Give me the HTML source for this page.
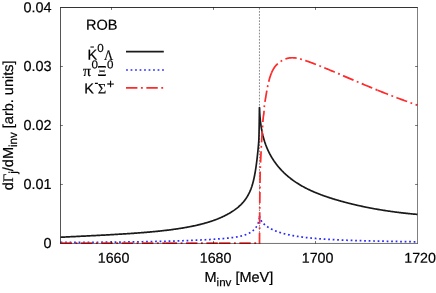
<!DOCTYPE html>
<html><head><meta charset="utf-8"><title>plot</title>
<style>
html,body{margin:0;padding:0;background:#fff;}
svg{display:block;will-change:transform}
text{font-family:"Liberation Sans",sans-serif;font-size:14.5px;fill:#000;stroke:#000;stroke-width:0.2px}
.sy{font-family:"Liberation Serif",serif}
.sub{font-size:11.6px}
.tk{font-size:14.25px}
</style></head><body>
<svg width="436" height="293" viewBox="0 0 436 293">
<rect width="436" height="293" fill="#fff"/>
<!-- threshold line -->
<path d="M259.45,7.9 V243.45" stroke="#000" stroke-width="0.48" stroke-dasharray="1.7 1.4" fill="none"/>
<!-- curves -->
<path d="M60.60,237.26 L61.58,237.21 L62.56,237.16 L63.53,237.11 L64.51,237.06 L65.48,237.01 L66.44,236.96 L67.41,236.91 L68.37,236.87 L69.33,236.82 L70.29,236.77 L71.25,236.72 L72.20,236.68 L73.15,236.63 L74.10,236.58 L75.05,236.54 L75.99,236.49 L76.93,236.44 L77.87,236.40 L78.81,236.35 L79.74,236.30 L80.67,236.26 L81.60,236.21 L82.53,236.17 L83.45,236.12 L84.37,236.08 L85.29,236.03 L86.21,235.98 L87.12,235.94 L88.04,235.89 L88.95,235.85 L89.85,235.80 L90.76,235.76 L91.66,235.71 L92.56,235.67 L93.46,235.62 L94.35,235.58 L95.25,235.53 L96.14,235.48 L97.03,235.44 L97.91,235.39 L98.79,235.35 L99.68,235.30 L100.55,235.26 L101.43,235.21 L102.30,235.16 L103.17,235.12 L104.04,235.07 L104.91,235.03 L105.77,234.98 L106.63,234.93 L107.49,234.89 L108.35,234.84 L109.20,234.79 L110.06,234.75 L110.90,234.70 L111.75,234.65 L112.60,234.60 L113.44,234.56 L114.28,234.51 L115.11,234.46 L115.95,234.41 L116.78,234.36 L117.61,234.31 L118.44,234.27 L119.26,234.22 L120.09,234.17 L120.91,234.12 L121.73,234.07 L122.54,234.02 L123.35,233.97 L124.16,233.91 L124.97,233.86 L125.78,233.81 L126.58,233.76 L127.38,233.71 L128.18,233.66 L128.98,233.60 L129.77,233.55 L130.56,233.50 L131.35,233.44 L132.14,233.39 L132.92,233.33 L133.70,233.28 L134.48,233.22 L135.26,233.17 L136.03,233.11 L136.80,233.06 L137.57,233.00 L138.34,232.94 L139.11,232.88 L139.87,232.83 L140.63,232.77 L141.38,232.71 L142.14,232.65 L142.89,232.59 L143.64,232.53 L144.39,232.47 L145.13,232.41 L145.88,232.34 L146.62,232.28 L147.36,232.22 L148.09,232.16 L148.82,232.09 L149.56,232.03 L150.28,231.96 L151.01,231.90 L151.73,231.83 L152.45,231.76 L153.17,231.70 L153.89,231.63 L154.60,231.56 L155.31,231.49 L156.02,231.42 L156.73,231.35 L157.43,231.28 L158.13,231.21 L158.83,231.13 L159.53,231.06 L160.23,230.99 L160.92,230.91 L161.61,230.84 L162.29,230.76 L162.98,230.69 L163.66,230.61 L164.34,230.53 L165.02,230.45 L165.69,230.37 L166.37,230.30 L167.04,230.21 L167.70,230.13 L168.37,230.05 L169.03,229.97 L169.69,229.88 L170.35,229.80 L171.01,229.72 L171.66,229.63 L172.31,229.54 L172.96,229.46 L173.61,229.37 L174.25,229.28 L174.89,229.19 L175.53,229.10 L176.16,229.01 L176.80,228.91 L177.43,228.82 L178.06,228.73 L178.69,228.63 L179.31,228.53 L179.93,228.44 L180.55,228.34 L181.17,228.24 L181.78,228.14 L182.40,228.04 L183.00,227.94 L183.61,227.84 L184.22,227.73 L184.82,227.63 L185.42,227.52 L186.02,227.42 L186.61,227.31 L187.20,227.20 L187.80,227.09 L188.38,226.98 L188.97,226.87 L189.55,226.76 L190.13,226.65 L190.71,226.53 L191.29,226.42 L191.86,226.30 L192.43,226.19 L193.00,226.07 L193.57,225.95 L194.13,225.83 L194.69,225.71 L195.25,225.58 L195.81,225.46 L196.36,225.33 L196.91,225.21 L197.46,225.08 L198.01,224.95 L198.55,224.82 L199.09,224.69 L199.63,224.56 L200.17,224.43 L200.70,224.30 L201.24,224.16 L201.77,224.02 L202.29,223.89 L202.82,223.75 L203.34,223.61 L203.86,223.47 L204.38,223.32 L204.90,223.18 L205.41,223.04 L205.92,222.89 L206.43,222.74 L206.93,222.59 L207.44,222.45 L207.94,222.29 L208.43,222.14 L208.93,221.99 L209.42,221.83 L209.92,221.68 L210.40,221.52 L210.89,221.36 L211.37,221.20 L211.86,221.04 L212.33,220.88 L212.81,220.71 L213.29,220.55 L213.76,220.38 L214.23,220.21 L214.69,220.04 L215.16,219.87 L215.62,219.70 L216.08,219.52 L216.54,219.35 L216.99,219.17 L217.44,218.99 L217.89,218.82 L218.34,218.63 L218.79,218.45 L219.23,218.27 L219.67,218.08 L220.11,217.90 L220.54,217.71 L220.98,217.52 L221.41,217.33 L221.83,217.13 L222.26,216.94 L222.68,216.74 L223.10,216.55 L223.52,216.35 L223.94,216.15 L224.35,215.95 L224.76,215.74 L225.17,215.54 L225.58,215.33 L225.98,215.12 L226.38,214.91 L226.78,214.70 L227.18,214.49 L227.58,214.27 L227.97,214.06 L228.36,213.84 L228.74,213.62 L229.13,213.40 L229.51,213.18 L229.89,212.95 L230.27,212.72 L230.64,212.50 L231.01,212.27 L231.39,212.04 L231.75,211.80 L232.12,211.57 L232.48,211.33 L232.84,211.09 L233.20,210.85 L233.55,210.61 L233.91,210.37 L234.26,210.12 L234.61,209.88 L234.95,209.63 L235.30,209.38 L235.64,209.13 L235.98,208.87 L236.31,208.62 L236.65,208.36 L236.98,208.10 L237.31,207.84 L237.63,207.57 L237.96,207.31 L238.28,207.04 L238.60,206.77 L238.92,206.49 L239.23,206.21 L239.54,205.93 L239.85,205.65 L240.16,205.36 L240.46,205.07 L240.77,204.78 L241.07,204.48 L241.36,204.18 L241.66,203.88 L241.95,203.57 L242.24,203.26 L242.53,202.94 L242.81,202.62 L243.10,202.30 L243.38,201.97 L243.66,201.64 L243.93,201.30 L244.20,200.96 L244.48,200.62 L244.74,200.27 L245.01,199.91 L245.27,199.55 L245.53,199.18 L245.79,198.81 L246.05,198.44 L246.30,198.05 L246.56,197.67 L246.80,197.27 L247.05,196.88 L247.30,196.47 L247.54,196.06 L247.78,195.64 L248.01,195.22 L248.25,194.79 L248.48,194.36 L248.71,193.92 L248.94,193.47 L249.16,193.01 L249.38,192.55 L249.61,192.08 L249.82,191.61 L250.04,191.12 L250.25,190.63 L250.46,190.13 L250.67,189.62 L250.87,189.10 L251.08,188.57 L251.28,188.03 L251.48,187.47 L251.67,186.91 L251.87,186.33 L252.06,185.73 L252.25,185.13 L252.43,184.51 L252.62,183.87 L252.80,183.23 L252.98,182.56 L253.15,181.89 L253.33,181.20 L253.50,180.50 L253.67,179.78 L253.83,179.06 L254.00,178.31 L254.16,177.56 L254.32,176.79 L254.48,176.01 L254.63,175.22 L254.78,174.41 L254.93,173.60 L255.08,172.77 L255.23,171.92 L255.37,171.07 L255.51,170.20 L255.65,169.33 L255.78,168.44 L255.92,167.55 L256.05,166.65 L256.17,165.75 L256.30,164.83 L256.42,163.92 L256.54,163.00 L256.66,162.08 L256.78,161.15 L256.89,160.23 L257.00,159.30 L257.11,158.38 L257.22,157.45 L257.32,156.53 L257.42,155.62 L257.52,154.70 L257.62,153.80 L257.71,152.90 L257.80,152.00 L257.89,151.12 L257.98,150.24 L258.07,149.38 L258.15,148.52 L258.23,147.68 L258.30,146.84 L258.38,146.03 L258.45,145.22 L258.52,144.44 L258.59,143.65 L258.65,142.83 L258.72,141.93 L258.78,140.92 L258.84,139.76 L258.89,138.42 L258.94,136.84 L259.00,135.07 L259.04,133.12 L259.09,131.03 L259.13,128.84 L259.17,126.58 L259.21,124.28 L259.25,121.97 L259.28,119.70 L259.31,117.49 L259.34,115.38 L259.37,113.40 L259.39,111.59 L259.41,109.98 L259.43,108.60 L259.45,107.49 L259.56,108.09 L259.58,108.70 L259.60,109.30 L259.62,109.90 L259.64,110.49 L259.67,111.09 L259.69,111.68 L259.72,112.26 L259.75,112.85 L259.78,113.43 L259.82,114.00 L259.85,114.58 L259.89,115.15 L259.93,115.72 L259.97,116.29 L260.02,116.85 L260.06,117.41 L260.11,117.97 L260.16,118.52 L260.21,119.07 L260.26,119.62 L260.32,120.17 L260.37,120.71 L260.43,121.25 L260.49,121.79 L260.56,122.33 L260.62,122.86 L260.69,123.39 L260.76,123.92 L260.83,124.44 L260.90,124.96 L260.97,125.48 L261.05,126.00 L261.13,126.51 L261.21,127.02 L261.29,127.53 L261.37,128.04 L261.46,128.54 L261.54,129.04 L261.63,129.54 L261.73,130.03 L261.82,130.53 L261.91,131.02 L262.01,131.51 L262.11,131.99 L262.21,132.47 L262.31,132.96 L262.42,133.43 L262.53,133.91 L262.63,134.38 L262.74,134.85 L262.86,135.32 L262.97,135.79 L263.09,136.25 L263.21,136.71 L263.33,137.17 L263.45,137.63 L263.57,138.08 L263.70,138.53 L263.82,138.98 L263.95,139.43 L264.09,139.88 L264.22,140.32 L264.35,140.76 L264.49,141.20 L264.63,141.63 L264.77,142.07 L264.92,142.50 L265.06,142.93 L265.21,143.36 L265.36,143.78 L265.51,144.21 L265.66,144.63 L265.81,145.05 L265.97,145.46 L266.13,145.88 L266.29,146.29 L266.45,146.70 L266.61,147.11 L266.78,147.52 L266.95,147.92 L267.12,148.32 L267.29,148.72 L267.46,149.12 L267.64,149.52 L267.82,149.92 L268.00,150.31 L268.18,150.70 L268.36,151.09 L268.55,151.48 L268.73,151.86 L268.92,152.25 L269.11,152.63 L269.31,153.01 L269.50,153.39 L269.70,153.77 L269.89,154.14 L270.10,154.52 L270.30,154.89 L270.50,155.26 L270.71,155.63 L270.92,156.00 L271.13,156.36 L271.34,156.73 L271.55,157.09 L271.77,157.45 L271.99,157.81 L272.20,158.17 L272.43,158.52 L272.65,158.88 L272.87,159.23 L273.10,159.58 L273.33,159.93 L273.56,160.28 L273.80,160.63 L274.03,160.98 L274.27,161.32 L274.51,161.67 L274.75,162.01 L274.99,162.35 L275.23,162.69 L275.48,163.03 L275.73,163.36 L275.98,163.70 L276.23,164.03 L276.48,164.37 L276.74,164.70 L277.00,165.03 L277.26,165.36 L277.52,165.68 L277.78,166.01 L278.05,166.33 L278.32,166.66 L278.58,166.98 L278.86,167.30 L279.13,167.62 L279.40,167.94 L279.68,168.25 L279.96,168.57 L280.24,168.88 L280.52,169.19 L280.81,169.50 L281.09,169.81 L281.38,170.12 L281.67,170.43 L281.97,170.73 L282.26,171.04 L282.56,171.34 L282.85,171.64 L283.15,171.94 L283.46,172.24 L283.76,172.54 L284.07,172.83 L284.37,173.13 L284.68,173.42 L284.99,173.71 L285.31,174.01 L285.62,174.29 L285.94,174.58 L286.26,174.87 L286.58,175.15 L286.90,175.44 L287.23,175.72 L287.55,176.00 L287.88,176.28 L288.21,176.56 L288.55,176.84 L288.88,177.11 L289.22,177.39 L289.55,177.66 L289.89,177.93 L290.24,178.20 L290.58,178.47 L290.93,178.74 L291.27,179.01 L291.62,179.27 L291.98,179.53 L292.33,179.80 L292.68,180.06 L293.04,180.32 L293.40,180.57 L293.76,180.83 L294.13,181.09 L294.49,181.34 L294.86,181.59 L295.23,181.85 L295.60,182.10 L295.97,182.34 L296.34,182.59 L296.72,182.84 L297.10,183.08 L297.48,183.33 L297.86,183.57 L298.25,183.81 L298.63,184.05 L299.02,184.29 L299.41,184.52 L299.80,184.76 L300.19,184.99 L300.59,185.23 L300.99,185.46 L301.39,185.69 L301.79,185.92 L302.19,186.14 L302.60,186.37 L303.00,186.60 L303.41,186.82 L303.82,187.04 L304.24,187.26 L304.65,187.48 L305.07,187.70 L305.49,187.92 L305.91,188.14 L306.33,188.35 L306.75,188.57 L307.18,188.78 L307.61,188.99 L308.04,189.20 L308.47,189.41 L308.90,189.62 L309.34,189.83 L309.78,190.04 L310.22,190.24 L310.66,190.45 L311.10,190.65 L311.55,190.85 L312.00,191.05 L312.44,191.25 L312.90,191.45 L313.35,191.65 L313.80,191.85 L314.26,192.04 L314.72,192.24 L315.18,192.43 L315.64,192.62 L316.11,192.82 L316.57,193.01 L317.04,193.20 L317.51,193.39 L317.98,193.57 L318.46,193.76 L318.93,193.95 L319.41,194.13 L319.89,194.32 L320.37,194.50 L320.86,194.68 L321.34,194.87 L321.83,195.05 L322.32,195.23 L322.81,195.41 L323.30,195.59 L323.80,195.76 L324.30,195.94 L324.80,196.12 L325.30,196.29 L325.80,196.47 L326.30,196.64 L326.81,196.81 L327.32,196.99 L327.83,197.16 L328.34,197.33 L328.86,197.50 L329.37,197.67 L329.89,197.84 L330.41,198.00 L330.93,198.17 L331.46,198.34 L331.98,198.50 L332.51,198.67 L333.04,198.83 L333.57,199.00 L334.10,199.16 L334.64,199.32 L335.18,199.48 L335.72,199.65 L336.26,199.81 L336.80,199.97 L337.34,200.13 L337.89,200.28 L338.44,200.44 L338.99,200.60 L339.54,200.76 L340.10,200.92 L340.65,201.07 L341.21,201.23 L341.77,201.38 L342.33,201.54 L342.90,201.69 L343.46,201.84 L344.03,202.00 L344.60,202.15 L345.17,202.30 L345.75,202.45 L346.32,202.60 L346.90,202.75 L347.48,202.90 L348.06,203.05 L348.64,203.20 L349.23,203.35 L349.82,203.50 L350.40,203.64 L351.00,203.79 L351.59,203.93 L352.18,204.08 L352.78,204.22 L353.38,204.37 L353.98,204.51 L354.58,204.65 L355.18,204.79 L355.79,204.94 L356.40,205.08 L357.01,205.22 L357.62,205.35 L358.23,205.49 L358.85,205.63 L359.47,205.77 L360.09,205.90 L360.71,206.04 L361.33,206.18 L361.96,206.31 L362.58,206.44 L363.21,206.58 L363.84,206.71 L364.48,206.84 L365.11,206.97 L365.75,207.10 L366.39,207.23 L367.03,207.36 L367.67,207.49 L368.32,207.62 L368.96,207.74 L369.61,207.87 L370.26,207.99 L370.91,208.12 L371.57,208.24 L372.22,208.36 L372.88,208.49 L373.54,208.61 L374.20,208.73 L374.86,208.85 L375.53,208.97 L376.20,209.09 L376.87,209.20 L377.54,209.32 L378.21,209.44 L378.89,209.55 L379.56,209.67 L380.24,209.78 L380.92,209.89 L381.61,210.00 L382.29,210.11 L382.98,210.22 L383.66,210.33 L384.35,210.44 L385.05,210.55 L385.74,210.66 L386.44,210.76 L387.14,210.87 L387.84,210.97 L388.54,211.08 L389.24,211.18 L389.95,211.28 L390.65,211.38 L391.36,211.48 L392.07,211.58 L392.79,211.68 L393.50,211.78 L394.22,211.87 L394.94,211.97 L395.66,212.06 L396.38,212.16 L397.11,212.25 L397.83,212.34 L398.56,212.43 L399.29,212.53 L400.03,212.61 L400.76,212.70 L401.50,212.79 L402.23,212.88 L402.97,212.96 L403.72,213.05 L404.46,213.13 L405.21,213.21 L405.95,213.30 L406.70,213.38 L407.46,213.46 L408.21,213.53 L408.96,213.61 L409.72,213.69 L410.48,213.77 L411.24,213.84 L412.01,213.91 L412.77,213.99 L413.54,214.06 L414.31,214.13 L415.08,214.20 L415.85,214.27 L416.62,214.34 L417.40,214.40" stroke="#1a1a1a" stroke-width="1.7" fill="none" stroke-linejoin="round"/>
<path d="M60.60,242.47 L61.60,242.46 L62.59,242.46 L63.58,242.46 L64.57,242.45 L65.55,242.45 L66.54,242.44 L67.52,242.44 L68.50,242.44 L69.47,242.43 L70.44,242.43 L71.42,242.42 L72.38,242.42 L73.35,242.41 L74.31,242.41 L75.27,242.40 L76.23,242.40 L77.19,242.39 L78.14,242.39 L79.09,242.38 L80.04,242.38 L80.99,242.37 L81.93,242.37 L82.87,242.36 L83.81,242.36 L84.74,242.35 L85.68,242.35 L86.61,242.34 L87.54,242.34 L88.46,242.33 L89.39,242.32 L90.31,242.32 L91.22,242.31 L92.14,242.30 L93.05,242.30 L93.96,242.29 L94.87,242.29 L95.78,242.28 L96.68,242.27 L97.58,242.27 L98.48,242.26 L99.38,242.25 L100.27,242.24 L101.16,242.24 L102.05,242.23 L102.93,242.22 L103.82,242.21 L104.70,242.21 L105.58,242.20 L106.45,242.19 L107.33,242.18 L108.20,242.18 L109.07,242.17 L109.93,242.16 L110.79,242.15 L111.66,242.14 L112.51,242.13 L113.37,242.13 L114.22,242.12 L115.07,242.11 L115.92,242.10 L116.77,242.09 L117.61,242.08 L118.45,242.07 L119.29,242.06 L120.13,242.05 L120.96,242.04 L121.79,242.03 L122.62,242.02 L123.44,242.01 L124.27,242.00 L125.09,241.99 L125.91,241.98 L126.72,241.97 L127.54,241.96 L128.35,241.95 L129.16,241.94 L129.96,241.93 L130.76,241.92 L131.57,241.91 L132.36,241.90 L133.16,241.88 L133.95,241.87 L134.74,241.86 L135.53,241.85 L136.32,241.84 L137.10,241.83 L137.88,241.81 L138.66,241.80 L139.44,241.79 L140.21,241.78 L140.98,241.76 L141.75,241.75 L142.51,241.74 L143.28,241.73 L144.04,241.71 L144.80,241.70 L145.55,241.69 L146.31,241.67 L147.06,241.66 L147.81,241.64 L148.55,241.63 L149.29,241.62 L150.04,241.60 L150.77,241.59 L151.51,241.57 L152.24,241.56 L152.97,241.54 L153.70,241.53 L154.43,241.52 L155.15,241.50 L155.87,241.48 L156.59,241.47 L157.31,241.45 L158.02,241.44 L158.73,241.42 L159.44,241.41 L160.15,241.39 L160.85,241.37 L161.55,241.36 L162.25,241.34 L162.94,241.32 L163.64,241.31 L164.33,241.29 L165.02,241.27 L165.70,241.26 L166.39,241.24 L167.07,241.22 L167.75,241.20 L168.42,241.19 L169.09,241.17 L169.77,241.15 L170.43,241.13 L171.10,241.11 L171.76,241.09 L172.42,241.08 L173.08,241.06 L173.74,241.04 L174.39,241.02 L175.04,241.00 L175.69,240.98 L176.34,240.96 L176.98,240.94 L177.62,240.92 L178.26,240.90 L178.90,240.88 L179.53,240.86 L180.16,240.84 L180.79,240.82 L181.41,240.80 L182.04,240.77 L182.66,240.75 L183.28,240.73 L183.89,240.71 L184.51,240.69 L185.12,240.67 L185.73,240.64 L186.33,240.62 L186.94,240.60 L187.54,240.58 L188.14,240.55 L188.73,240.53 L189.32,240.51 L189.92,240.48 L190.50,240.46 L191.09,240.44 L191.67,240.41 L192.25,240.39 L192.83,240.37 L193.41,240.34 L193.98,240.32 L194.55,240.29 L195.12,240.27 L195.69,240.24 L196.25,240.22 L196.81,240.19 L197.37,240.17 L197.93,240.14 L198.48,240.11 L199.03,240.09 L199.58,240.06 L200.13,240.03 L200.67,240.01 L201.21,239.98 L201.75,239.95 L202.28,239.93 L202.82,239.90 L203.35,239.87 L203.88,239.84 L204.40,239.82 L204.93,239.79 L205.45,239.76 L205.97,239.73 L206.48,239.70 L207.00,239.67 L207.51,239.64 L208.01,239.61 L208.52,239.58 L209.02,239.56 L209.53,239.53 L210.02,239.50 L210.52,239.46 L211.01,239.43 L211.50,239.40 L211.99,239.37 L212.48,239.34 L212.96,239.31 L213.44,239.28 L213.92,239.25 L214.40,239.22 L214.87,239.18 L215.34,239.15 L215.81,239.12 L216.28,239.09 L216.74,239.05 L217.20,239.02 L217.66,238.99 L218.12,238.95 L218.57,238.92 L219.02,238.89 L219.47,238.85 L219.92,238.82 L220.36,238.78 L220.80,238.75 L221.24,238.71 L221.67,238.68 L222.11,238.64 L222.54,238.61 L222.97,238.57 L223.39,238.53 L223.82,238.50 L224.24,238.46 L224.66,238.42 L225.07,238.38 L225.49,238.35 L225.90,238.31 L226.31,238.27 L226.71,238.23 L227.12,238.19 L227.52,238.15 L227.91,238.11 L228.31,238.06 L228.70,238.02 L229.10,237.98 L229.48,237.94 L229.87,237.89 L230.25,237.85 L230.63,237.80 L231.01,237.76 L231.39,237.71 L231.76,237.66 L232.13,237.62 L232.50,237.57 L232.87,237.52 L233.23,237.47 L233.59,237.42 L233.95,237.36 L234.31,237.31 L234.66,237.26 L235.01,237.20 L235.36,237.15 L235.71,237.09 L236.05,237.04 L236.39,236.98 L236.73,236.92 L237.07,236.86 L237.40,236.80 L237.73,236.74 L238.06,236.68 L238.39,236.61 L238.71,236.55 L239.03,236.48 L239.35,236.42 L239.67,236.35 L239.98,236.28 L240.29,236.21 L240.60,236.14 L240.90,236.07 L241.21,235.99 L241.51,235.92 L241.81,235.84 L242.10,235.77 L242.40,235.69 L242.69,235.61 L242.98,235.53 L243.26,235.45 L243.55,235.36 L243.83,235.28 L244.11,235.19 L244.38,235.11 L244.66,235.02 L244.93,234.93 L245.20,234.84 L245.46,234.74 L245.73,234.65 L245.99,234.55 L246.25,234.46 L246.50,234.36 L246.76,234.26 L247.01,234.16 L247.25,234.05 L247.50,233.95 L247.74,233.84 L247.99,233.73 L248.22,233.62 L248.46,233.51 L248.69,233.40 L248.93,233.29 L249.15,233.17 L249.38,233.05 L249.60,232.93 L249.82,232.81 L250.04,232.69 L250.26,232.56 L250.47,232.44 L250.68,232.31 L250.89,232.18 L251.10,232.05 L251.30,231.91 L251.50,231.78 L251.70,231.64 L251.90,231.50 L252.09,231.36 L252.28,231.21 L252.47,231.07 L252.66,230.92 L252.84,230.77 L253.02,230.62 L253.20,230.47 L253.38,230.31 L253.55,230.15 L253.72,229.99 L253.89,229.83 L254.06,229.67 L254.22,229.50 L254.38,229.33 L254.54,229.16 L254.70,228.99 L254.85,228.81 L255.00,228.63 L255.15,228.45 L255.30,228.27 L255.44,228.09 L255.58,227.90 L255.72,227.71 L255.86,227.52 L255.99,227.33 L256.12,227.13 L256.25,226.93 L256.38,226.73 L256.50,226.53 L256.62,226.32 L256.74,226.11 L256.86,225.90 L256.97,225.69 L257.08,225.47 L257.19,225.25 L257.30,225.03 L257.40,224.81 L257.50,224.59 L257.60,224.36 L257.70,224.14 L257.79,223.91 L257.88,223.68 L257.97,223.45 L258.06,223.22 L258.14,222.99 L258.22,222.76 L258.30,222.52 L258.38,222.29 L258.45,222.05 L258.52,221.82 L258.59,221.58 L258.66,221.35 L258.72,221.11 L258.78,220.87 L258.84,220.64 L258.90,220.40 L258.95,220.16 L259.00,219.93 L259.05,219.69 L259.10,219.46 L259.14,219.22 L259.18,218.99 L259.22,218.76 L259.26,218.53 L259.29,218.30 L259.32,218.07 L259.35,217.84 L259.38,217.61 L259.40,217.39 L259.42,217.16 L259.44,216.94 L259.46,216.72 L259.47,216.50 L259.48,216.29 L259.49,216.07 L259.50,215.86 L259.50,215.65 L259.50,215.44 L259.50,215.44 L259.50,215.57 L259.51,215.70 L259.52,215.83 L259.52,215.96 L259.54,216.08 L259.55,216.21 L259.56,216.34 L259.58,216.47 L259.60,216.60 L259.62,216.73 L259.64,216.86 L259.67,216.99 L259.69,217.12 L259.72,217.25 L259.75,217.38 L259.79,217.51 L259.82,217.64 L259.86,217.77 L259.90,217.91 L259.94,218.04 L259.98,218.17 L260.02,218.30 L260.07,218.43 L260.12,218.56 L260.17,218.69 L260.22,218.82 L260.28,218.95 L260.33,219.08 L260.39,219.21 L260.45,219.34 L260.52,219.47 L260.58,219.61 L260.65,219.74 L260.71,219.87 L260.79,220.00 L260.86,220.13 L260.93,220.26 L261.01,220.39 L261.09,220.52 L261.17,220.65 L261.25,220.78 L261.33,220.91 L261.42,221.04 L261.51,221.17 L261.60,221.30 L261.69,221.43 L261.79,221.56 L261.88,221.69 L261.98,221.82 L262.08,221.95 L262.18,222.08 L262.29,222.21 L262.39,222.34 L262.50,222.46 L262.61,222.59 L262.72,222.72 L262.84,222.85 L262.95,222.98 L263.07,223.11 L263.19,223.23 L263.31,223.36 L263.44,223.49 L263.56,223.61 L263.69,223.74 L263.82,223.87 L263.95,223.99 L264.09,224.12 L264.22,224.25 L264.36,224.37 L264.50,224.50 L264.64,224.62 L264.79,224.75 L264.93,224.87 L265.08,225.00 L265.23,225.12 L265.38,225.24 L265.53,225.37 L265.69,225.49 L265.85,225.61 L266.01,225.73 L266.17,225.86 L266.33,225.98 L266.50,226.10 L266.67,226.22 L266.84,226.34 L267.01,226.46 L267.18,226.58 L267.36,226.70 L267.53,226.82 L267.71,226.94 L267.89,227.06 L268.08,227.18 L268.26,227.29 L268.45,227.41 L268.64,227.53 L268.83,227.64 L269.03,227.76 L269.22,227.88 L269.42,227.99 L269.62,228.10 L269.82,228.22 L270.02,228.33 L270.23,228.45 L270.43,228.56 L270.64,228.67 L270.86,228.78 L271.07,228.89 L271.28,229.01 L271.50,229.12 L271.72,229.23 L271.94,229.33 L272.16,229.44 L272.39,229.55 L272.62,229.66 L272.85,229.77 L273.08,229.87 L273.31,229.98 L273.55,230.09 L273.78,230.19 L274.02,230.29 L274.26,230.40 L274.51,230.50 L274.75,230.60 L275.00,230.71 L275.25,230.81 L275.50,230.91 L275.75,231.01 L276.01,231.11 L276.26,231.21 L276.52,231.31 L276.78,231.40 L277.04,231.50 L277.31,231.60 L277.58,231.69 L277.84,231.79 L278.12,231.88 L278.39,231.98 L278.66,232.07 L278.94,232.16 L279.22,232.25 L279.50,232.35 L279.78,232.44 L280.07,232.53 L280.35,232.62 L280.64,232.71 L280.93,232.79 L281.22,232.88 L281.52,232.97 L281.82,233.06 L282.11,233.14 L282.42,233.23 L282.72,233.31 L283.02,233.40 L283.33,233.48 L283.64,233.56 L283.95,233.65 L284.26,233.73 L284.57,233.81 L284.89,233.89 L285.21,233.97 L285.53,234.05 L285.85,234.13 L286.18,234.20 L286.50,234.28 L286.83,234.36 L287.16,234.44 L287.49,234.51 L287.83,234.59 L288.16,234.66 L288.50,234.74 L288.84,234.81 L289.18,234.88 L289.53,234.95 L289.87,235.03 L290.22,235.10 L290.57,235.17 L290.93,235.24 L291.28,235.31 L291.64,235.38 L291.99,235.44 L292.35,235.51 L292.72,235.58 L293.08,235.65 L293.45,235.71 L293.81,235.78 L294.18,235.84 L294.56,235.91 L294.93,235.97 L295.30,236.03 L295.68,236.10 L296.06,236.16 L296.44,236.22 L296.83,236.28 L297.21,236.34 L297.60,236.40 L297.99,236.46 L298.38,236.52 L298.78,236.58 L299.17,236.64 L299.57,236.69 L299.97,236.75 L300.37,236.81 L300.78,236.86 L301.18,236.92 L301.59,236.97 L302.00,237.03 L302.41,237.08 L302.82,237.13 L303.24,237.19 L303.66,237.24 L304.08,237.29 L304.50,237.34 L304.92,237.39 L305.35,237.44 L305.77,237.49 L306.20,237.54 L306.64,237.59 L307.07,237.64 L307.50,237.69 L307.94,237.74 L308.38,237.78 L308.82,237.83 L309.27,237.88 L309.71,237.92 L310.16,237.97 L310.61,238.01 L311.06,238.06 L311.51,238.10 L311.97,238.14 L312.42,238.19 L312.88,238.23 L313.35,238.27 L313.81,238.31 L314.27,238.36 L314.74,238.40 L315.21,238.44 L315.68,238.48 L316.15,238.52 L316.63,238.56 L317.11,238.60 L317.59,238.64 L318.07,238.67 L318.55,238.71 L319.03,238.75 L319.52,238.79 L320.01,238.82 L320.50,238.86 L320.99,238.90 L321.49,238.93 L321.99,238.97 L322.49,239.00 L322.99,239.04 L323.49,239.07 L323.99,239.10 L324.50,239.14 L325.01,239.17 L325.52,239.20 L326.03,239.24 L326.55,239.27 L327.06,239.30 L327.58,239.33 L328.10,239.36 L328.63,239.39 L329.15,239.42 L329.68,239.45 L330.21,239.48 L330.74,239.51 L331.27,239.54 L331.80,239.57 L332.34,239.60 L332.88,239.63 L333.42,239.65 L333.96,239.68 L334.51,239.71 L335.05,239.74 L335.60,239.76 L336.15,239.79 L336.70,239.82 L337.26,239.84 L337.82,239.87 L338.37,239.89 L338.93,239.92 L339.50,239.94 L340.06,239.97 L340.63,239.99 L341.20,240.02 L341.77,240.04 L342.34,240.06 L342.91,240.09 L343.49,240.11 L344.07,240.13 L344.65,240.16 L345.23,240.18 L345.81,240.20 L346.40,240.22 L346.99,240.24 L347.58,240.27 L348.17,240.29 L348.76,240.31 L349.36,240.33 L349.96,240.35 L350.56,240.37 L351.16,240.39 L351.76,240.41 L352.37,240.43 L352.98,240.45 L353.59,240.47 L354.20,240.49 L354.81,240.51 L355.43,240.53 L356.05,240.54 L356.67,240.56 L357.29,240.58 L357.91,240.60 L358.54,240.62 L359.17,240.63 L359.80,240.65 L360.43,240.67 L361.06,240.69 L361.70,240.70 L362.34,240.72 L362.98,240.74 L363.62,240.76 L364.26,240.77 L364.91,240.79 L365.56,240.80 L366.20,240.82 L366.86,240.84 L367.51,240.85 L368.17,240.87 L368.82,240.88 L369.48,240.90 L370.14,240.92 L370.81,240.93 L371.47,240.95 L372.14,240.96 L372.81,240.98 L373.48,240.99 L374.16,241.01 L374.83,241.02 L375.51,241.04 L376.19,241.05 L376.87,241.07 L377.55,241.08 L378.24,241.09 L378.93,241.11 L379.61,241.12 L380.31,241.14 L381.00,241.15 L381.69,241.16 L382.39,241.18 L383.09,241.19 L383.79,241.21 L384.50,241.22 L385.20,241.23 L385.91,241.25 L386.62,241.26 L387.33,241.28 L388.04,241.29 L388.76,241.30 L389.47,241.32 L390.19,241.33 L390.91,241.34 L391.64,241.36 L392.36,241.37 L393.09,241.38 L393.82,241.40 L394.55,241.41 L395.28,241.43 L396.02,241.44 L396.75,241.45 L397.49,241.47 L398.23,241.48 L398.98,241.49 L399.72,241.51 L400.47,241.52 L401.22,241.53 L401.97,241.55 L402.72,241.56 L403.47,241.58 L404.23,241.59 L404.99,241.60 L405.75,241.62 L406.51,241.63 L407.28,241.64 L408.05,241.66 L408.81,241.67 L409.58,241.69 L410.36,241.70 L411.13,241.71 L411.91,241.73 L412.69,241.74 L413.47,241.76 L414.25,241.77 L415.03,241.79 L415.82,241.80 L416.61,241.82 L417.40,241.83" stroke="#2a2aff" stroke-width="1.72" stroke-dasharray="1.75 2.75" fill="none"/>
<path d="M60.60,243.20 L165.70,243.20" stroke="#ff2a2a" stroke-width="1.72" stroke-dasharray="11.4 3.55 1.85 3.55" fill="none"/>
<path d="M165.70,243.20 L219.00,243.20" stroke="#ff2a2a" stroke-width="1.72" stroke-dasharray="11.4 3.55 1.85 3.55" fill="none"/>
<path d="M219.00,243.20 L259.50,243.20 L259.50,243.61 L259.50,243.72 L259.51,243.35 L259.52,242.51 L259.52,241.25 L259.54,239.60 L259.55,237.58 L259.56,235.23 L259.58,232.59 L259.60,229.68 L259.62,226.54 L259.64,223.19 L259.67,219.68 L259.69,216.03 L259.72,212.28 L259.75,208.46 L259.79,204.60 L259.82,200.73 L259.86,196.88 L259.90,193.09 L259.94,189.39 L259.98,185.82 L260.02,182.39 L260.07,179.16 L260.12,176.14 L260.17,173.37 L260.22,170.88 L260.28,168.71 L260.33,166.88 L260.39,165.36 L260.45,164.07 L260.51,162.92 L260.58,161.82 L260.65,160.70 L260.71,159.47 L260.78,158.07 L260.86,156.54 L260.93,154.91 L261.01,153.23 L261.09,151.52 L261.17,149.84 L261.25,148.17 L261.33,146.53 L261.42,144.91 L261.51,143.30 L261.60,141.70 L261.69,140.12 L261.78,138.54 L261.88,136.96 L261.98,135.38 L262.08,133.80 L262.18,132.22 L262.28,130.63 L262.39,129.02 L262.50,127.40 L262.61,125.77 L262.72,124.11 L262.83,122.45 L262.95,120.83 L263.07,119.33 L263.19,118.00 L263.31,116.91 L263.43,116.06 L263.56,115.33 L263.69,114.57 L263.82,113.60 L263.95,112.28 L264.08,110.44 L264.22,108.08 L264.36,106.02 L264.50,104.51 L264.64,103.41 L264.78,102.55 L264.93,101.77 L265.08,100.98 L265.23,100.15 L265.38,99.28 L265.53,98.39 L265.69,97.48 L265.84,96.55 L266.00,95.60 L266.16,94.64 L266.33,93.67 L266.49,92.70 L266.66,91.72 L266.83,90.75 L267.00,89.79 L267.18,88.84 L267.35,87.90 L267.53,86.98 L267.71,86.08 L267.89,85.21 L268.07,84.36 L268.26,83.53 L268.45,82.72 L268.63,81.93 L268.83,81.17 L269.02,80.43 L269.21,79.70 L269.41,79.00 L269.61,78.31 L269.81,77.65 L270.02,77.00 L270.22,76.37 L270.43,75.76 L270.64,75.17 L270.85,74.59 L271.06,74.02 L271.28,73.48 L271.49,72.95" stroke="#ff2a2a" stroke-width="1.72" stroke-dasharray="11.4 3.55 1.85 3.55" fill="none"/>
<path d="M271.49,72.95 L271.71,72.43 L271.93,71.93 L272.16,71.45 L272.38,70.97 L272.61,70.52 L272.84,70.07 L273.07,69.64 L273.30,69.22 L273.54,68.82 L273.77,68.42 L274.01,68.04 L274.25,67.67 L274.50,67.31 L274.74,66.97 L274.99,66.63 L275.24,66.30 L275.49,65.99 L275.74,65.68 L275.99,65.38 L276.25,65.09 L276.51,64.81 L276.77,64.54 L277.03,64.28 L277.30,64.02 L277.56,63.77 L277.83,63.53 L278.10,63.29 L278.38,63.06 L278.65,62.84 L278.93,62.62 L279.21,62.41 L279.49,62.21 L279.77,62.00 L280.05,61.81 L280.34,61.61 L280.63,61.42 L280.92,61.24 L281.21,61.05 L281.51,60.88 L281.80,60.70 L282.10,60.53 L282.40,60.36 L282.70,60.20 L283.01,60.04 L283.31,59.89 L283.62,59.74 L283.93,59.60 L284.24,59.46 L284.56,59.33 L284.87,59.20 L285.19,59.07 L285.51,58.95 L285.84,58.84 L286.16,58.73 L286.49,58.62 L286.81,58.53 L287.14,58.43 L287.48,58.34 L287.81,58.26 L288.15,58.19 L288.48,58.12 L288.82,58.05 L289.17,57.99 L289.51,57.94 L289.86,57.90 L290.20,57.86 L290.55,57.82 L290.91,57.79 L291.26,57.77 L291.61,57.76 L291.97,57.75 L292.33,57.75 L292.69,57.76 L293.06,57.77 L293.42,57.79 L293.79,57.81 L294.16,57.84 L294.53,57.88 L294.91,57.92 L295.28,57.96 L295.66,58.02 L296.04,58.07 L296.42,58.14 L296.80,58.20 L297.19,58.28 L297.58,58.35 L297.97,58.43 L298.36,58.52 L298.75,58.61 L299.15,58.70 L299.55,58.80 L299.94,58.91 L300.35,59.01 L300.75,59.12 L301.16,59.24 L301.56,59.35 L301.97,59.47 L302.38,59.60 L302.80,59.72 L303.21,59.85 L303.63,59.98 L304.05,60.12 L304.47,60.26 L304.89,60.40 L305.32,60.54 L305.75,60.68 L306.17,60.83 L306.61,60.98 L307.04,61.13 L307.47,61.28 L307.91,61.43 L308.35,61.59 L308.79,61.75 L309.23,61.91 L309.68,62.07 L310.13,62.23 L310.58,62.39 L311.03,62.56 L311.48,62.73 L311.93,62.90 L312.39,63.07 L312.85,63.24 L313.31,63.41 L313.77,63.59 L314.24,63.77 L314.71,63.94 L315.17,64.13 L315.65,64.31 L316.12,64.49 L316.59,64.68 L317.07,64.86 L317.55,65.05 L318.03,65.24 L318.51,65.43 L319.00,65.62 L319.48,65.82 L319.97,66.01 L320.46,66.21 L320.96,66.41 L321.45,66.61 L321.95,66.81 L322.45,67.01 L322.95,67.21 L323.45,67.42 L323.95,67.63 L324.46,67.83 L324.97,68.04 L325.48,68.25 L325.99,68.46 L326.51,68.68 L327.02,68.89 L327.54,69.11 L328.06,69.32 L328.58,69.54 L329.11,69.76 L329.63,69.98 L330.16,70.20 L330.69,70.43 L331.22,70.65 L331.76,70.88 L332.29,71.10 L332.83,71.33 L333.37,71.56 L333.92,71.79 L334.46,72.02 L335.01,72.25 L335.55,72.48 L336.10,72.72 L336.66,72.95 L337.21,73.19 L337.77,73.42 L338.32,73.66 L338.88,73.90 L339.45,74.14 L340.01,74.38 L340.58,74.63 L341.14,74.87 L341.71,75.11 L342.29,75.36 L342.86,75.60 L343.44,75.85 L344.01,76.10 L344.59,76.35 L345.18,76.59 L345.76,76.84 L346.34,77.10 L346.93,77.35 L347.52,77.60 L348.11,77.85 L348.71,78.11 L349.30,78.36 L349.90,78.62 L350.50,78.87 L351.10,79.13 L351.71,79.39 L352.31,79.65 L352.92,79.91 L353.53,80.17 L354.14,80.43 L354.75,80.69 L355.37,80.95 L355.99,81.22 L356.61,81.48 L357.23,81.74 L357.85,82.01 L358.48,82.27 L359.10,82.54 L359.73,82.80 L360.37,83.07 L361.00,83.34 L361.63,83.61 L362.27,83.87 L362.91,84.14 L363.55,84.41 L364.20,84.68 L364.84,84.95 L365.49,85.22 L366.14,85.50 L366.79,85.77 L367.44,86.04 L368.10,86.31 L368.75,86.58 L369.41,86.86 L370.07,87.13 L370.74,87.41 L371.40,87.68 L372.07,87.95 L372.74,88.23 L373.41,88.51 L374.08,88.78 L374.76,89.06 L375.43,89.33 L376.11,89.61 L376.79,89.89 L377.48,90.16" stroke="#ff2a2a" stroke-width="1.72" stroke-dasharray="11.4 3.55 1.85 3.55" fill="none"/>
<path d="M377.48,90.16 L378.16,90.44 L378.85,90.72 L379.54,91.00 L380.23,91.27 L380.92,91.55 L381.62,91.83 L382.31,92.11 L383.01,92.39 L383.71,92.66 L384.42,92.94 L385.12,93.22 L385.83,93.50 L386.54,93.78 L387.25,94.06 L387.96,94.34 L388.67,94.62 L389.39,94.89 L390.11,95.17 L390.83,95.45 L391.55,95.73 L392.28,96.01 L393.00,96.29 L393.73,96.57 L394.46,96.85 L395.20,97.13 L395.93,97.40 L396.67,97.68 L397.40,97.96 L398.15,98.24 L398.89,98.52 L399.63,98.80 L400.38,99.07 L401.13,99.35 L401.88,99.63 L402.63,99.91 L403.38,100.18 L404.14,100.46 L404.90,100.74 L405.66,101.01 L406.42,101.29 L407.18,101.57 L407.95,101.84 L408.72,102.12 L409.49,102.39 L410.26,102.67 L411.04,102.94 L411.81,103.21 L412.59,103.49 L413.37,103.76 L414.15,104.03 L414.94,104.31 L415.72,104.58 L416.51,104.85 L417.30,105.12" stroke="#ff2a2a" stroke-width="1.72" stroke-dasharray="11.4 3.55 1.85 3.55" fill="none"/>
<!-- legend samples -->
<path d="M126,51.7H163.8" stroke="#1a1a1a" stroke-width="1.7"/>
<path d="M126.1,70.0H163.9" stroke="#2a2aff" stroke-width="1.72" stroke-dasharray="1.75 2.75"/>
<path d="M126,87.85H163.3" stroke="#ff2a2a" stroke-width="1.72" stroke-dasharray="11.4 3.55 1.85 3.55"/>
<!-- border + ticks -->
<path d="M60.17,7.5H417.75" stroke="#000" stroke-width="0.8" fill="none"/>
<path d="M60.5,7.5V243.73" stroke="#000" stroke-width="0.67" fill="none"/>
<path d="M60.17,243.45H417.75" stroke="#000" stroke-width="0.56" fill="none"/>
<path d="M417.5,7.5V243.73" stroke="#000" stroke-width="0.5" fill="none"/>
<path d="M60.5,184.46h2.4 M417.5,184.46h-2.4 M60.5,125.47h2.4 M417.5,125.47h-2.4 M60.5,66.49h2.4 M417.5,66.49h-2.4 M111.50,243.45v-2.4 M111.50,7.5v2.4 M213.50,243.45v-2.4 M213.50,7.5v2.4 M315.50,243.45v-2.4 M315.50,7.5v2.4" stroke="#000" stroke-width="0.55" fill="none"/>
<!-- tick labels -->
<text x="51.6" y="248.10" transform="rotate(0.03 51.6 248.10)" text-anchor="end" style="font-size:14.45px">0</text>
<text x="51.6" y="189.11" transform="rotate(0.03 51.6 189.11)" text-anchor="end" style="font-size:14.45px">0.01</text>
<text x="51.6" y="130.12" transform="rotate(0.03 51.6 130.12)" text-anchor="end" style="font-size:14.45px">0.02</text>
<text x="51.6" y="71.14" transform="rotate(0.03 51.6 71.14)" text-anchor="end" style="font-size:14.45px">0.03</text>
<text x="51.6" y="12.15" transform="rotate(0.03 51.6 12.15)" text-anchor="end" style="font-size:14.45px">0.04</text>
<text x="113.60" y="262.65" transform="rotate(0.03 113.60 262.65)" text-anchor="middle" class="tk">1660</text>
<text x="215.60" y="262.65" transform="rotate(0.03 215.60 262.65)" text-anchor="middle" class="tk">1680</text>
<text x="317.60" y="262.65" transform="rotate(0.03 317.60 262.65)" text-anchor="middle" class="tk">1700</text>
<text x="420.10" y="262.65" transform="rotate(0.03 420.10 262.65)" text-anchor="middle" class="tk">1720</text>

<!-- x label -->
<text x="204.5" y="282.05" transform="rotate(0.03 204.5 282.05)">M<tspan class="sub" dy="4.1">inv</tspan><tspan dy="-4.1"> [MeV]</tspan></text>
<!-- y label -->
<text transform="translate(12.9,190.25) rotate(-89.97)" x="0" y="0">d<tspan class="sy">Γ</tspan><tspan class="sub" dy="4.1">j</tspan><tspan dy="-4.1">/dM</tspan><tspan class="sub" dy="4.1">inv</tspan><tspan dy="-4.1"> [arb. units]</tspan></text>
<!-- legend text -->
<text x="86.1" y="29.8" transform="rotate(0.03 86.1 29.8)">ROB</text>
<text x="87.4" y="59.7" transform="rotate(0.03 87.4 59.7)">K</text>
<rect x="90.4" y="46.5" width="3.5" height="1.05" fill="#000"/>
<text x="97.2" y="51.9" transform="rotate(0.03 97.2 51.9)" class="sub">0</text>
<text x="103.9" y="59.8" transform="rotate(0.03 103.9 59.8)" class="sy" textLength="9.2" lengthAdjust="spacingAndGlyphs">Λ</text>
<text x="83.0" y="76.0" transform="rotate(0.03 83.0 76.0)" class="sy" style="font-size:15.8px">π</text>
<text x="91.5" y="68.6" transform="rotate(0.03 91.5 68.6)" class="sub">0</text>
<path d="M98.2,66.0h7.5v2.1h-0.6v-0.7h-6.3v0.7h-0.6z M99.5,69.8h0.55v0.7h3.9v-0.7h0.55v2.7h-0.55v-0.7h-3.9v0.7h-0.55z M98.2,76.0h7.5v-2.1h-0.6v0.7h-6.3v-0.7h-0.6z" fill="#000"/>
<text x="107.0" y="68.6" transform="rotate(0.03 107.0 68.6)" class="sub">0</text>
<text x="84.3" y="93.6" transform="rotate(0.03 84.3 93.6)">K</text>
<text x="94.6" y="86.4" transform="rotate(0.03 94.6 86.4)" class="sub">-</text>
<text x="97.8" y="93.6" transform="rotate(0.03 97.8 93.6)" class="sy">Σ</text>
<text x="106.7" y="88.2" transform="rotate(0.03 106.7 88.2)" style="font-size:13px">+</text>
</svg>
</body></html>
